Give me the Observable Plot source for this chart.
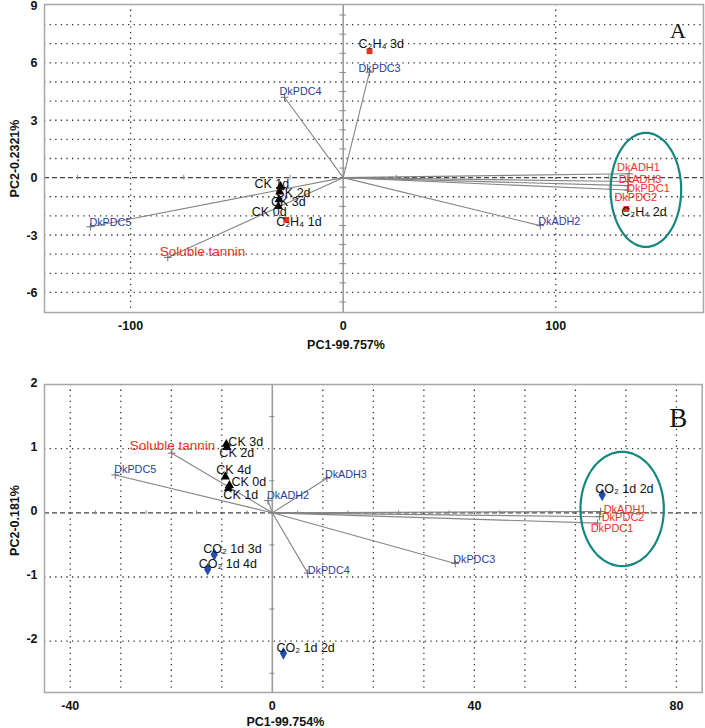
<!DOCTYPE html>
<html><head><meta charset="utf-8">
<script src="https://cdn.jsdelivr.net/npm/d3@7"></script>
<script src="https://cdn.jsdelivr.net/npm/@observablehq/plot@0.6"></script>
<style>
body{margin:0;background:#fff;}
#chart{width:705px;}
#chart svg{display:block;}
</style></head><body><div id="chart"></div>
<script>
// ---------- Panel A data ----------
const aLoadNames = ["DkPDC3","DkPDC4","DkPDC5","Soluble tannin","DkADH2","DkADH1","DkADH3","DkPDC1","DkPDC2"];
const aLoadPC1   = [12.4, -27.6, -118.9, -82.5, 92.7, 134.5, 134.3, 134.0, 133.7];
const aLoadPC2   = [5.51, 4.20, -2.57, -4.17, -2.51, 0.20, -0.20, -0.42, -0.65];
const aLoadGroup = ["gene","gene","gene","tannin","gene","cluster","cluster","cluster","cluster"];
const aScoreNames = ["C₂H₄ 3d","CK 1d","CK 2d","CK 3d","CK 0d","C₂H₄ 1d","C₂H₄ 2d"];
const aScorePC1   = [12.4, -29.5, -29.8, -30.2, -30.5, -26.8, 133.2];
const aScorePC2   = [6.61, -0.45, -0.75, -1.15, -1.50, -2.21, -1.64];
const aScoreGroup = ["C2H4","CK","CK","CK","CK","C2H4","C2H4"];
const aXTicks = [-100, 0, 100];
const aYTicks = [9, 6, 3, 0, -3, -6];
const aEllipse = {cx: 142.4, cy: -0.64, rx: 16.6, ry: 2.98};

// ---------- Panel B data ----------
const bLoadNames = ["DkPDC5","Soluble tannin","DkADH2","DkADH3","DkPDC4","DkPDC3","DkADH1","DkPDC2","DkPDC1"];
const bLoadPC1   = [-31.1, -19.9, -0.85, 10.8, 7.0, 36.2, 65.0, 64.8, 64.4];
const bLoadPC2   = [0.59, 0.93, 0.19, 0.54, -0.94, -0.79, 0.02, -0.06, -0.16];
const bLoadGroup = ["gene","tannin","gene","gene","gene","gene","cluster","cluster","cluster"];
const bScoreNames = ["CK 3d","CK 2d","CK 4d","CK 0d","CK 1d","CO₂ 1d 3d","CO₂ 1d 4d","CO₂ 1d 2d","CO₂ 1d 2d"];
const bScorePC1   = [-9.1, -9.0, -9.3, -8.5, -8.7, -11.5, -12.8, 2.2, 65.3];
const bScorePC2   = [1.07, 1.02, 0.56, 0.43, 0.38, -0.65, -0.88, -2.19, 0.28];
const bScoreGroup = ["CK","CK","CK","CK","CK","CO2","CO2","CO2","CO2"];
const bXTicks = [-40, 0, 40, 80];
const bYTicks = [2, 1, 0, -1, -2];
const bEllipse = {cx: 69.25, cy: 0.06, rx: 8.25, ry: 0.89};

// ---------- layout / style (label nudges in px) ----------
const aLoadNudge  = [[-11,-4],[-5,-6],[-1,-4],[-8,-6],[-2,-4],[-12,-6],[-10,-2],[-1,3],[-13,7]];
const aScoreNudge = [[-11,-7],[-26,-2],[-4,1],[-8,2],[-26.5,6],[-10,2],[-5,3]];
const bLoadNudge  = [[-1,-5],[-42,-7],[-1,-5],[-2,-4],[0,-3],[-2,-4],[3,-2],[2,1],[-7,5]];
const bScoreNudge = [[2,-2],[-7.5,6],[-9,-7],[2,-3],[-5,7],[-11,-6],[-9,-5],[-7,-5],[-7,-6]];

const FONT = "'Liberation Sans', Arial, Helvetica, sans-serif";
const loadColor = {gene: "#2b3c9c", tannin: "#f2321f", cluster: "#f2321f"};
const loadSize  = {gene: 10.8, tannin: 13.5, cluster: 11};
const scoreStyle = {
  CK:   {symbol: "triangle", fill: "#000", r: 3.4},
  C2H4: {symbol: "square",   fill: "#e8301e", r: 3.3},
  CO2:  {symbol: "diamond",  fill: "#1f4cad", r: 3.8}
};

function panel(cfg) {
  const loads = cfg.loadNames.map((n, i) => ({name: n, x: cfg.loadX[i], y: cfg.loadY[i], group: cfg.loadGroup[i]}));
  const scores = cfg.scoreNames.map((n, i) => ({name: n, x: cfg.scoreX[i], y: cfg.scoreY[i], group: cfg.scoreGroup[i]}));
  const e = cfg.ellipse;
  const ell = d3.range(0, 361, 3).map(t => ({x: e.cx + e.rx * Math.cos(t * Math.PI / 180), y: e.cy + e.ry * Math.sin(t * Math.PI / 180)}));
  const marks = [];
  // dotted grid
  marks.push(Plot.ruleY(cfg.gridY, {stroke: "#333", strokeDasharray: "1.3,4.3", strokeWidth: 1.3}));
  marks.push(Plot.ruleX(cfg.gridX, {stroke: "#333", strokeDasharray: "1.3,4.3", strokeWidth: 1.3}));
  // zero axes
  marks.push(Plot.ruleX([0], {stroke: "#9c9c9c", strokeWidth: 1.6}));
  marks.push(Plot.ruleY([0], {stroke: "#444", strokeDasharray: "5,3", strokeWidth: 1.2}));
  marks.push(Plot.ruleY(cfg.vTicks, {x1: () => -cfg.vTickHalf, x2: () => cfg.vTickHalf, stroke: "#8a8a8a"}));
  marks.push(Plot.ruleX(cfg.hTicks, {y1: () => -cfg.hTickHalf, y2: () => cfg.hTickHalf, stroke: "#8a8a8a"}));
  // loading vectors
  marks.push(Plot.link(loads, {x1: () => 0, y1: () => 0, x2: "x", y2: "y", stroke: "#858585", strokeWidth: 1.1}));
  marks.push(Plot.dot(loads, {x: "x", y: "y", symbol: "plus", r: 2.6, stroke: "#707070", strokeWidth: 1}));
  // ellipse
  marks.push(Plot.line(ell, {x: "x", y: "y", stroke: "#16877f", strokeWidth: 2.2, curve: "catmull-rom"}));
  // scores
  for (const g of Object.keys(scoreStyle)) {
    const s = scoreStyle[g];
    const sub = scores.filter(d => d.group === g);
    if (sub.length) marks.push(Plot.dot(sub, {x: "x", y: "y", symbol: s.symbol, r: s.r, fill: s.fill, stroke: "none"}));
  }
  // labels
  loads.forEach((d, i) => marks.push(Plot.text([d], {
    x: "x", y: "y", text: "name", dx: cfg.loadNudge[i][0], dy: cfg.loadNudge[i][1],
    textAnchor: "start", lineAnchor: "middle", fill: loadColor[d.group], fontSize: loadSize[d.group]
  })));
  scores.forEach((d, i) => marks.push(Plot.text([d], {
    x: "x", y: "y", text: "name", dx: cfg.scoreNudge[i][0], dy: cfg.scoreNudge[i][1],
    textAnchor: "start", lineAnchor: "middle", fill: "#111", fontSize: 12.5
  })));
  // frame and axes
  marks.push(Plot.frame({stroke: "#a8a8a8", strokeWidth: 1.5}));
  marks.push(Plot.axisX(cfg.xTicks, {tickSize: 0, tickPadding: 8.5, tickFormat: d => String(d), fontWeight: "bold", fontSize: 12.5, label: null}));
  marks.push(Plot.axisY(cfg.yTicks, {tickSize: 0, tickPadding: 7, dy: cfg.yTickDy, tickFormat: d => String(d), fontWeight: "bold", fontSize: 12.5, label: null}));
  marks.push(Plot.text([cfg.xTitle], {frameAnchor: "bottom", dx: cfg.xTitleDx, dy: cfg.xTitleDyOff, lineAnchor: "middle", fontWeight: "bold", fontSize: 12.5}));
  marks.push(Plot.text([cfg.yTitle], {frameAnchor: "left", dx: -30, dy: cfg.yTitleDy, rotate: -90, lineAnchor: "middle", textAnchor: "middle", fontWeight: "bold", fontSize: 12.5}));
  marks.push(Plot.text([cfg.letter], {frameAnchor: "top-right", dx: cfg.letterDx, dy: cfg.letterDy, textAnchor: "middle", lineAnchor: "middle", fontFamily: "'Liberation Serif', 'Times New Roman', serif", fontSize: cfg.letterSize}));
  return Plot.plot({
    width: 705, height: cfg.height,
    marginTop: cfg.mt, marginRight: cfg.mr, marginBottom: cfg.mb, marginLeft: cfg.ml,
    x: {domain: cfg.xDomain, axis: null},
    y: {domain: cfg.yDomain, axis: null},
    style: {fontFamily: FONT, background: "white", color: "#111", overflow: "visible"},
    marks
  });
}

const chartA = panel({
  loadNames: aLoadNames, loadX: aLoadPC1, loadY: aLoadPC2, loadGroup: aLoadGroup, loadNudge: aLoadNudge,
  scoreNames: aScoreNames, scoreX: aScorePC1, scoreY: aScorePC2, scoreGroup: aScoreGroup, scoreNudge: aScoreNudge,
  xTicks: aXTicks, yTicks: aYTicks, ellipse: aEllipse,
  gridX: [-100, 100], gridY: d3.range(-6, 9).filter(v => v !== 0),
  vTicks: d3.range(-6.5, 9, 1), vTickHalf: 1.6, hTicks: [-125, -75, -25, 25, 75, 125], hTickHalf: 0.12,
  xDomain: [-140.5, 169.5], yDomain: [-7.05, 9.05],
  xTitle: "PC1-99.757%", yTitle: "PC2-0.2321%", xTitleDx: -28, xTitleDyOff: 32, yTitleDy: 0, yTickDy: 0.5,
  letter: "A", letterDx: -25.5, letterDy: 26, letterSize: 22,
  height: 368, mt: 4, mr: 2, mb: 56, ml: 44
});
const chartB = panel({
  loadNames: bLoadNames, loadX: bLoadPC1, loadY: bLoadPC2, loadGroup: bLoadGroup, loadNudge: bLoadNudge,
  scoreNames: bScoreNames, scoreX: bScorePC1, scoreY: bScorePC2, scoreGroup: bScoreGroup, scoreNudge: bScoreNudge,
  xTicks: bXTicks, yTicks: bYTicks, ellipse: bEllipse,
  gridX: [-40, -30, -20, -10, 10, 20, 30, 40, 50, 60, 70, 80], gridY: [1, -1, -2],
  vTicks: [1.5, 0.5, -0.5, -1.5, -2.5], vTickHalf: 0.5, hTicks: [-35, -25, -15, -5, 5, 15, 25, 35, 45, 55, 65, 75], hTickHalf: 0.03,
  xDomain: [-45.1, 85.1], yDomain: [-2.8, 2.0],
  xTitle: "PC1-99.754%", yTitle: "PC2-0.181%", xTitleDx: -88, xTitleDyOff: 29.5, yTitleDy: -18, yTickDy: -2,
  letter: "B", letterDx: -24, letterDy: 33.5, letterSize: 27,
  height: 360, mt: 16, mr: 3.3, mb: 36, ml: 44
});
document.getElementById("chart").append(chartA, chartB);
</script>
</body></html>
